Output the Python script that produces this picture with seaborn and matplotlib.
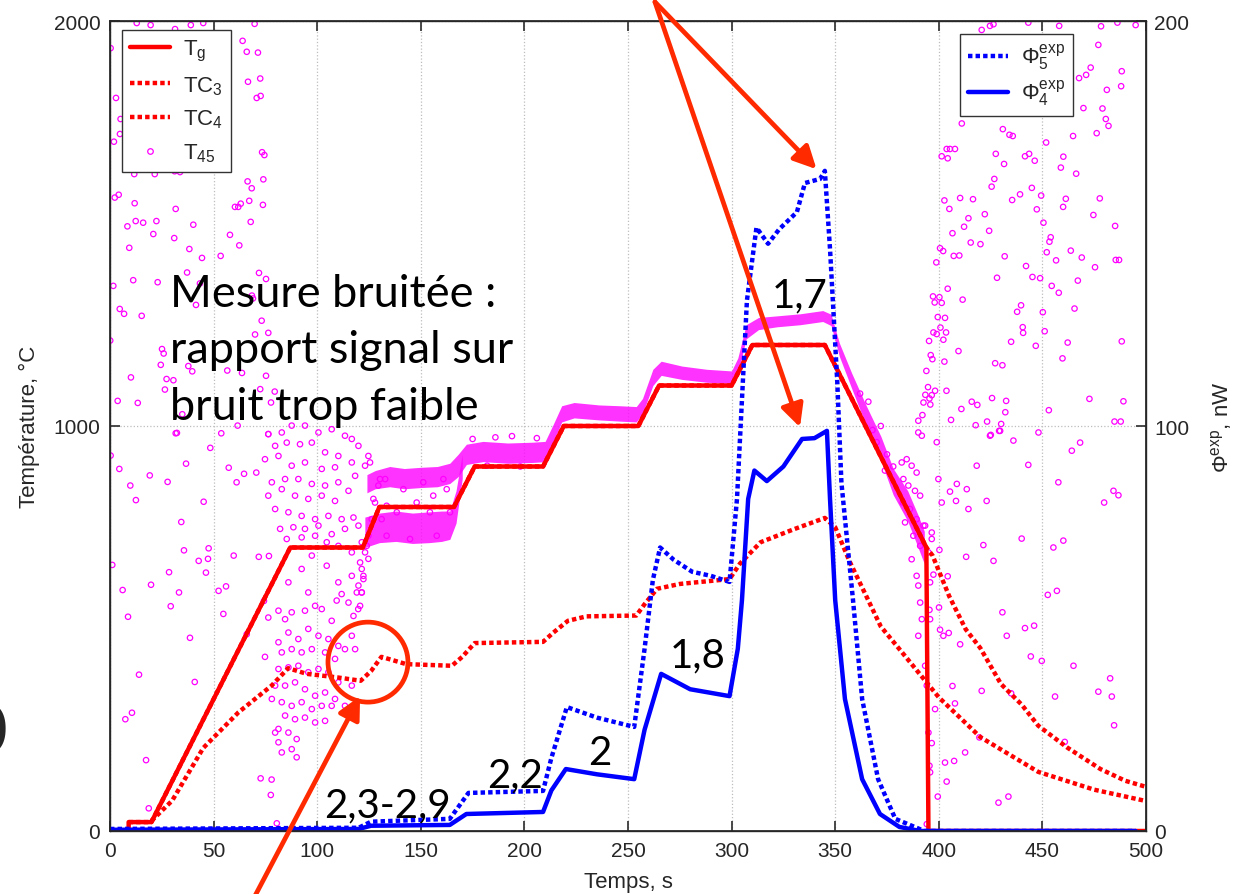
import numpy as np
import pandas as pd
import seaborn as sns
import matplotlib.pyplot as plt
from matplotlib.lines import Line2D
from matplotlib.patches import Ellipse

# ---- data ----
# gas temperature T_g (left axis, degC)
tg_t = [9, 9, 20, 87, 122, 130, 166, 176, 209, 219, 255, 265, 300, 310, 345, 394, 395, 500]
tg_v = [0, 22, 22, 700, 700, 800, 800, 900, 900, 1000, 1000, 1100, 1100, 1200, 1200, 700, 0, 0]

# thermocouple TC3 (lower dotted curve)
tc3_t = [20, 30, 45, 62, 78, 86, 95, 110, 121, 126, 131, 143, 165, 170, 176, 209, 214, 221, 230,
         254, 258, 264, 275, 299, 304, 314, 330, 345, 350, 357, 365, 372, 381, 400, 420, 448, 475, 500]
tc3_v = [25, 75, 205, 293, 359, 402, 388, 379, 371, 395, 430, 412, 408, 430, 464, 467, 490, 519, 530,
         532, 560, 598, 610, 622, 660, 713, 745, 773, 750, 665, 580, 505, 449, 330, 232, 146, 102, 74]

# thermocouple TC4 (follows T_g, then decays)
tc4_t = [9, 20, 87, 122, 130, 166, 176, 209, 219, 255, 265, 300, 310, 345, 394,
         397, 405, 413, 420, 430, 440, 448, 462, 478, 490, 500]
tc4_v = [22, 22, 700, 700, 800, 800, 900, 900, 1000, 1000, 1100, 1100, 1200, 1200, 700,
         680, 580, 498, 452, 363, 312, 260, 206, 153, 124, 109]

# T45 dense band (lower / upper edge)
t45_t = [124, 128, 135, 142, 150, 158, 164, 168, 172, 180, 192, 204, 210, 214, 218, 224, 236, 246,
         254, 257, 262, 266, 276, 288, 300, 303, 307, 313, 322, 333, 344, 348, 352, 358, 365, 372,
         378, 385, 390, 393]
t45_lo = [835, 845, 850, 845, 848, 850, 858, 875, 905, 912, 908, 910, 912, 960, 1010, 1020, 1015, 1012,
          1010, 1030, 1100, 1125, 1115, 1108, 1105, 1130, 1215, 1238, 1245, 1250, 1258, 1248, 1172, 1092,
          1000, 915, 830, 765, 700, 660]
t45_hi = [880, 890, 900, 895, 898, 900, 908, 930, 955, 962, 958, 960, 962, 1005, 1050, 1058, 1052, 1050,
          1048, 1068, 1140, 1160, 1148, 1140, 1136, 1168, 1250, 1268, 1272, 1277, 1285, 1276, 1205, 1130,
          1050, 975, 895, 840, 780, 740]
# second (lower) T45 band before 170 s
t45b_t = [123, 130, 138, 146, 154, 160, 164, 167, 170]
t45b_lo = [700, 712, 715, 710, 712, 715, 720, 760, 870]
t45b_hi = [775, 785, 790, 785, 788, 790, 790, 840, 930]

# T45 scattered noisy samples (t, T)
t45_noise_left = [
    (12.9, 1995), (19.6, 1990), (31.4, 1980), (39, 1990), (45, 1995), (69.8, 1993), (0.3, 1933),
    (2.9, 1810), (64, 1951), (66, 1924), (71.4, 1922), (66.6, 1850), (72.5, 1858), (70.8, 1810),
    (72.7, 1815), (5.1, 1758), (4.8, 1721), (1.9, 1702), (21.6, 1682), (73.4, 1676), (74.5, 1669),
    (11.7, 1622), (21.6, 1622), (31.2, 1629), (33.8, 1627), (52, 1633), (66.4, 1604), (74, 1609),
    (68.4, 1587), (2.3, 1564), (4.2, 1571), (11.9, 1550), (31.7, 1536), (60.3, 1541), (61.9, 1541),
    (63.1, 1549), (67.2, 1556), (73.8, 1546), (67.9, 1504), (8.4, 1493), (12.4, 1506), (16, 1502),
    (22.4, 1506), (20.9, 1474), (31, 1464), (40.2, 1497), (9.3, 1440), (38.3, 1437), (44.4, 1415),
    (53.4, 1420), (57.9, 1472), (62.4, 1446), (37.2, 1379), (71.9, 1378), (75.3, 1363), (1.6, 1346),
    (11.2, 1360), (23, 1355), (43.4, 1352), (68.5, 1322), (69, 1315), (41.5, 1299), (4.7, 1289),
    (6.8, 1277), (15.3, 1272), (73.2, 1260), (70, 1226), (76.4, 1230), (0.1, 1211), (25.1, 1190),
    (25.9, 1179), (24.5, 1151), (37.8, 1148), (39.7, 1135), (10.1, 1120), (27.3, 1116), (30.6, 1113),
    (56.6, 1137), (63.7, 1131), (75.3, 1124), (26.5, 1090), (3.7, 1062), (13.4, 1057), (34.9, 1029),
    (72.5, 1091), (77.7, 1058), (79.5, 1085), (31.7, 982), (53.7, 982), (61.6, 1001), (76.4, 980),
    (0.3, 927), (4.5, 894), (9.8, 853), (12.5, 817), (19.2, 878), (27.8, 862), (32.3, 983), (36.7, 907),
    (34.4, 763), (45.2, 813), (48.4, 946), (57.3, 897), (61.1, 861), (64.7, 882), (70.6, 885),
    (1.1, 657), (6.1, 595), (8.7, 529), (19.8, 608), (28.5, 639), (33.3, 589), (29.3, 555), (35.7, 693),
    (42.8, 667), (46.3, 638), (47.6, 698), (47.3, 672), (52.4, 593), (54.7, 536), (56, 604), (59.7, 680),
    (71.8, 677), (76.7, 679), (38.6, 477), (14, 386), (10.6, 292), (7.4, 276), (17.4, 175), (40.9, 368),
    (18.7, 56), (72.7, 130), (78, 127), (77.6, 89), (80.5, 19), (74.3, 568), (66, 486), (74.8, 430),
]
t45_noise_cloud = [
    (76.4, 980), (82.9, 984), (87.7, 1001), (94.1, 1001), (100.6, 984), (107, 992), (113.4, 976),
    (116.7, 968), (79.7, 951), (85.3, 959), (91.7, 955), (97.4, 959), (103.8, 935), (110.2, 926),
    (119.9, 951), (124.7, 926), (74.8, 918), (81.3, 926), (87.7, 902), (94.1, 910), (102.2, 894),
    (108.6, 898), (116.7, 910), (123.1, 902), (78.1, 861), (84.5, 869), (90.9, 869), (97.4, 857),
    (103.8, 853), (110.2, 861), (118.3, 877), (76.4, 828), (82.9, 844), (89.3, 828), (95.7, 820),
    (102.2, 828), (108.6, 815), (115.1, 840), (79.7, 795), (86.1, 787), (92.5, 778), (99, 770),
    (105.4, 778), (111.8, 770), (117.5, 774), (82.1, 746), (88.5, 750), (94.1, 746), (100.6, 754),
    (107, 733), (113.4, 746), (119.9, 754), (85.3, 721), (92.5, 725), (99, 729), (104.6, 713),
    (110.2, 704), (116.7, 688), (121.5, 713), (86.1, 614), (92.5, 647), (97.4, 680), (104.6, 655),
    (110.2, 614), (111.8, 585), (116.7, 630), (121.5, 647), (119.9, 606), (109.4, 569), (115.1, 564),
    (119.1, 589), (95.7, 589), (99, 556), (87.7, 540), (94.1, 544), (102.2, 548), (107, 519),
    (117.5, 531), (81.3, 544), (84.5, 523), (76.4, 527), (81.3, 466), (86.1, 490), (90.9, 474),
    (95.7, 499), (100.6, 482), (105.4, 474), (110.2, 457), (116.7, 482), (118.3, 449), (82.9, 441),
    (87.7, 449), (92.5, 441), (97.4, 449), (103.8, 441), (108.6, 425), (113.4, 449), (81.3, 400),
    (86.1, 404), (90.9, 408), (95.7, 392), (100.6, 400), (105.4, 392), (110.2, 367), (116.7, 359),
    (79.7, 359), (84.5, 359), (89.3, 367), (94.1, 350), (99, 334), (103.8, 342), (108.6, 326),
    (113.4, 309), (78.1, 326), (82.9, 318), (87.7, 309), (92.5, 318), (97.4, 301), (102.2, 309),
    (107, 309), (84.5, 285), (89.3, 276), (94.1, 280), (99, 268), (103.8, 272), (81.3, 252), (86.1, 243),
    (90.1, 227), (79.7, 243), (81.3, 219), (82.9, 194), (87.7, 202), (90.1, 182), (120.7, 663),
    (123.1, 688), (121.5, 589), (120.7, 556), (122.3, 630), (124.7, 729), (126.3, 770), (127.9, 811),
    (129.5, 853), (132.8, 869), (125.5, 910), (130.3, 869), (127.1, 820), (133.5, 803), (141.6, 844),
    (148, 811), (156, 828), (162.5, 844), (138.4, 787), (151.2, 861), (160.9, 869), (131.1, 770),
    (154.4, 787), (164.1, 787), (157.7, 729), (144.8, 721), (133.5, 729), (123.9, 704), (124.7, 672),
    (122.3, 622), (121.5, 589), (119.8, 548), (175, 968), (186, 972), (198, 900), (206, 970),
    (182, 902), (194, 975),
]
t45_noise_right = [
    (362, 1080), (368, 990), (372, 1000), (375, 930), (378, 900), (370, 960), (366, 1060), (374, 890),
    (382.1, 910), (384.5, 918), (386.9, 902), (389.3, 885), (382.9, 869), (385.3, 853), (388.5, 840),
    (391, 828), (382.6, 811), (386.1, 795), (389.3, 770), (392.6, 754), (383.7, 762), (387.7, 729),
    (391, 704), (386.9, 671), (389.3, 630), (390.1, 606), (391, 564), (391.8, 523), (390.1, 482),
    (393.4, 754), (396.6, 737), (395, 688), (395.8, 614), (393.4, 408), (394.2, 359), (395, 243),
    (395.8, 145), (394.2, 17), (390.1, 984), (391.8, 976), (399, 960), (418.3, 902), (424.7, 976),
    (429.6, 988), (436, 964), (448.1, 984), (464.2, 939), (468.2, 959), (457.7, 861), (399.8, 869),
    (401.4, 811), (405.4, 838), (408.7, 857), (408.3, 815), (414.3, 795), (413.5, 844), (423.1, 815),
    (443.2, 904), (440, 722), (421.5, 706), (413.2, 677), (426.4, 667), (455.3, 700), (460.1, 717),
    (457, 593), (452.6, 583), (479.8, 811), (484.3, 840), (486.7, 829), (396.6, 721), (400.3, 694),
    (397.4, 633), (404.3, 629), (400.1, 552), (400.6, 497), (402.2, 482), (404.8, 489), (410.3, 461),
    (430.7, 540), (432.8, 482), (441.6, 501), (446, 507), (444.4, 431), (449.7, 420), (465, 408),
    (482.7, 377), (477, 344), (483.5, 332), (484.6, 261), (456.1, 332), (406.6, 358), (407.8, 315),
    (420.7, 346), (434.9, 340), (419.6, 231), (412.7, 194), (403, 169), (407.4, 173), (403.8, 122),
    (399.5, 85), (428.8, 70), (433.6, 85), (460.8, 220), (395.5, 546), (395.8, 523), (396.6, 217),
    (395.5, 161), (398.2, 301),
    (420.7, 1978), (424.7, 1988), (426.4, 1992), (443.2, 1996), (458.1, 1988), (478.3, 1987),
    (486.2, 1996), (477, 1941), (473.3, 1885), (467.7, 1859), (471.1, 1867), (488.3, 1876), (488, 1839),
    (481.1, 1830), (469.8, 1785), (479, 1784), (480.6, 1758), (481.9, 1741), (476.2, 1723),
    (411.1, 1747), (430.9, 1733), (434.1, 1719), (435.7, 1716), (451.8, 1700), (464.8, 1716),
    (403.8, 1684), (405.4, 1684), (407.8, 1684), (401.4, 1666), (404.3, 1661), (427.5, 1672),
    (431.5, 1647), (441.6, 1666), (443.6, 1672), (446.3, 1655), (460.1, 1665), (458.9, 1638),
    (466.3, 1623), (426.8, 1610), (425.5, 1591), (444.9, 1588), (439.2, 1572), (435.4, 1558),
    (449.4, 1569), (402.7, 1557), (410.3, 1563), (416.5, 1560), (405.1, 1536), (447.3, 1535),
    (461.3, 1561), (460, 1541), (477.7, 1562), (474.6, 1521), (422.2, 1523), (414.3, 1513),
    (450.5, 1502), (412.2, 1492), (406.6, 1476), (424.3, 1482), (485.1, 1494), (415.4, 1453),
    (420.1, 1449), (454, 1466), (453.4, 1455), (400.6, 1439), (402.1, 1432), (407.2, 1420),
    (409.9, 1421), (431.8, 1419), (452.1, 1429), (456.6, 1409), (463.7, 1433), (469, 1416),
    (485.4, 1410), (487, 1410), (398.8, 1404), (442.1, 1395), (445.2, 1368), (448.9, 1365),
    (475.4, 1392), (428.1, 1366), (454.5, 1346), (457.9, 1329), (467.1, 1359), (404.3, 1339),
    (397.2, 1320), (400.3, 1318), (398, 1305), (401.4, 1304), (411.5, 1312), (439.7, 1298),
    (437.8, 1282), (450.2, 1281), (465.5, 1290), (399.5, 1269), (403, 1267), (400.8, 1243),
    (397.4, 1231), (399, 1227), (403.5, 1231), (402.2, 1213), (440.5, 1244), (440.7, 1230),
    (451.1, 1234), (395.3, 1210), (434.9, 1208), (462.2, 1206), (488.3, 1209), (446.8, 1198),
    (409.5, 1185), (396.1, 1175), (396.9, 1165), (402.7, 1159), (427.2, 1155), (430.7, 1150),
    (459.7, 1167), (394, 1136), (394.8, 1096), (393.5, 1077), (396.6, 1076), (398.2, 1087),
    (392.6, 1058), (395.5, 1068), (395.9, 1053), (403.7, 1087), (425.7, 1069), (432.5, 1062),
    (415.9, 1060), (418.6, 1052), (410.9, 1042), (432.1, 1034), (453.1, 1039), (472.7, 1067),
    (489.1, 1061), (392.1, 1027), (390.1, 1013), (405.9, 1015), (423.3, 1011), (417.8, 1002),
    (430.1, 1005), (484.8, 1011), (487.8, 1011), (425.1, 978), (429.1, 988), (495, 1990),
]

# heat flux, right axis (nW)
phi5_t = [0, 120, 126, 164, 173, 209, 213, 220.5, 235, 253, 258, 262, 265.5, 272, 281, 290, 299,
          302.6, 307.4, 312, 317.6, 323, 331.5, 335.4, 342.7, 345, 347.5, 351, 353, 358.6, 363,
          370.7, 379, 393, 495]
phi5_v = [0.5, 0.8, 2.3, 3, 9.4, 9.9, 18, 30.6, 28, 25.7, 45, 62, 70, 67, 64, 63, 61.5,
          82, 131, 149, 145, 148.6, 152.8, 160, 161, 163, 143.7, 110.9, 86, 57, 32.6,
          12.8, 3, 0, 0]
phi4_t = [0, 120, 126, 164, 172, 209, 213, 220, 235, 253, 258, 266, 280, 299, 303, 305, 308, 311,
          317, 325, 334, 340, 346, 347.5, 350, 354.7, 363, 371.6, 381, 391, 495]
phi4_v = [0.3, 0.5, 1.3, 1.5, 4.2, 4.7, 10, 15.3, 14, 12.8, 25, 38.8, 35, 33.3, 45, 57, 82, 89,
          86.4, 90, 96.8, 97, 98.8, 82, 57, 32.6, 12.8, 4.2, 1, 0, 0]

# ---- style ----
sns.set_theme(style="ticks")
plt.rcParams["font.family"] = ["Liberation Sans", "DejaVu Sans"]
plt.rcParams["mathtext.fontset"] = "custom"
plt.rcParams["mathtext.rm"] = "Liberation Sans"
plt.rcParams["mathtext.it"] = "Liberation Sans:italic"
plt.rcParams["mathtext.default"] = "regular"

RED = "#ff0000"
BLUE = "#0000ff"
MAG = "#ff00ff"
ARROW = "#ff2a00"
DOT = (0, (1, 0.7))

fig = plt.figure(figsize=(12.36, 8.95), dpi=100)
ax = fig.add_axes([110 / 1236, 63 / 895, 1036 / 1236, 810 / 895])

# T45 noisy measurement
noise = pd.DataFrame(t45_noise_left + t45_noise_cloud + t45_noise_right, columns=["t", "T"])
ax.fill_between(t45_t, t45_lo, t45_hi, color=MAG, alpha=0.8, lw=0)
ax.fill_between(t45b_t, t45b_lo, t45b_hi, color=MAG, alpha=0.8, lw=0)
sns.scatterplot(data=noise, x="t", y="T", ax=ax, marker="o", s=15, color=MAG,
                facecolor="none", edgecolor=MAG, linewidth=0.9, legend=False)

# thermocouples and gas temperature
sns.lineplot(x=tc3_t, y=tc3_v, ax=ax, color=RED, lw=3.2, linestyle=DOT, sort=False, estimator=None)
sns.lineplot(x=tc4_t, y=tc4_v, ax=ax, color=RED, lw=3.2, linestyle=DOT, sort=False, estimator=None)
sns.lineplot(x=tg_t, y=tg_v, ax=ax, color=RED, lw=3.2, sort=False, estimator=None)

ax.set_xlim(0, 500)
ax.set_ylim(0, 2000)
ax.set_xticks(np.arange(0, 501, 50))
ax.set_yticks([0, 1000, 2000])
ax.grid(True, linestyle=":", color="#bdbdbd", lw=0.9)
ax.tick_params(direction="in", top=True, right=False, length=7, labelsize=15, pad=7,
               color="#333333")
ax.set_xlabel("Temps, s", fontsize=16, labelpad=8)
ax.set_ylabel("Température, °C", fontsize=16, labelpad=10)
for s in ax.spines.values():
    s.set_color("#333333")
    s.set_linewidth(1)

# heat flux on the second axis
ax2 = ax.twinx()
sns.lineplot(x=phi5_t, y=phi5_v, ax=ax2, color=BLUE, lw=3.2, linestyle=DOT, sort=False, estimator=None)
sns.lineplot(x=phi4_t, y=phi4_v, ax=ax2, color=BLUE, lw=3.2, sort=False, estimator=None)
ax2.set_ylim(0, 200)
ax2.set_yticks([0, 100, 200])
ax2.tick_params(direction="in", length=7, labelsize=15, pad=6, color="#333333")
ax2.set_ylabel(r"$\Phi^{exp}$, nW", fontsize=16, labelpad=14)
ax2.grid(False)

# legends
h1 = [Line2D([], [], color=RED, lw=3.2),
      Line2D([], [], color=RED, lw=3.2, linestyle=DOT),
      Line2D([], [], color=RED, lw=3.2, linestyle=DOT),
      Line2D([], [], ls="none", marker="o", mfc="none", mec=MAG, ms=4, mew=0.9)]
leg1 = ax.legend(h1, ["T$_g$", "TC$_3$", "TC$_4$", "T$_{45}$"], loc="upper left",
                 bbox_to_anchor=(12 / 1036, 1 - 9 / 810), borderaxespad=0, fontsize=16,
                 fancybox=False, edgecolor="#333333", framealpha=1, handlelength=1.8,
                 handletextpad=0.6, labelspacing=0.5, borderpad=0.35)
leg1.get_frame().set_linewidth(1)
h2 = [Line2D([], [], color=BLUE, lw=3.2, linestyle=DOT),
      Line2D([], [], color=BLUE, lw=3.2)]
leg2 = ax2.legend(h2, [r"$\Phi^{exp}_{5}$", r"$\Phi^{exp}_{4}$"], loc="upper right",
                  bbox_to_anchor=(963 / 1036, 1 - 13 / 810), borderaxespad=0, fontsize=16,
                  fancybox=False, edgecolor="#333333", framealpha=1, handlelength=1.8,
                  handletextpad=0.6, labelspacing=0.25, borderpad=0.35)
leg2.get_frame().set_linewidth(1)

# slide annotations
tr = ax.transData
note_font = dict(family=["Lato", "DejaVu Sans"], color="black")
ax2.text(29, 1296, "Mesure bruitée :", transform=tr, fontsize=32.5, va="baseline", **note_font)
ax2.text(29, 1158, "rapport signal sur", transform=tr, fontsize=32.5, va="baseline", **note_font)
ax2.text(29, 1017, "bruit trop faible", transform=tr, fontsize=32.5, va="baseline", **note_font)
for x, y, s in [(319.5, 1294, "1,7"), (270.3, 407, "1,8"), (230.7, 165, "2"),
                (182, 111, "2,2"), (103.3, 37, "2,3-2,9")]:
    ax2.text(x, y, s, transform=tr, fontsize=29, va="baseline", **note_font)

arrow = dict(arrowstyle="-|>", color=ARROW, lw=3.4, mutation_scale=34, shrinkA=0, shrinkB=0)
ax2.annotate("", xy=(341, 1634), xytext=(263, 2047), xycoords=tr, textcoords=tr,
             arrowprops=arrow, annotation_clip=False)
ax2.annotate("", xy=(333, 997), xytext=(263, 2047), xycoords=tr, textcoords=tr,
             arrowprops=arrow, annotation_clip=False)
ax2.annotate("", xy=(120.7, 333), xytext=(70, -160), xycoords=tr, textcoords=tr,
             arrowprops=arrow, annotation_clip=False)
ax2.add_patch(Ellipse((124.5, 417), 38.6, 197.5, transform=tr, fill=False,
                      edgecolor=ARROW, lw=3.4))

# cropped glyph at the left edge of the slide
fig.text(8 / 1236, 1 - 735 / 895, "0", fontsize=48, ha="right", va="center",
         family=["Lato", "DejaVu Sans"])

fig.savefig("out.png", dpi=100)
